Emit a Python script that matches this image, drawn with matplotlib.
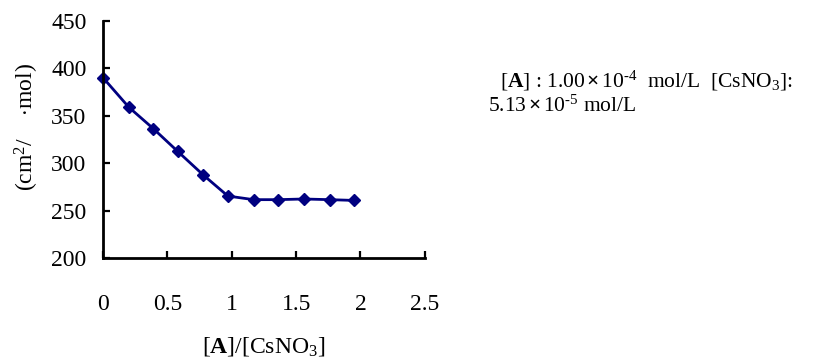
import matplotlib
matplotlib.use("Agg")
import matplotlib.pyplot as plt

plt.rcParams.update({"font.family": "Liberation Serif", "mathtext.fontset": "custom",
                     "mathtext.rm": "Liberation Serif", "mathtext.bf": "Liberation Serif:bold",
                     "mathtext.it": "Liberation Serif:italic"})
NAVY = "#000080"

# ratio [A]/[CsNO3] vs molar conductivity
ratio = [0.0, 0.2, 0.39, 0.58, 0.78, 0.97, 1.17, 1.36, 1.56, 1.76, 1.95]
conductivity = [390, 359, 336.5, 312.5, 287.5, 265.5, 261.7, 261.7, 262.4, 261.7, 260.9]
xticks = [0, 0.5, 1, 1.5, 2, 2.5]
yticks = [200, 250, 300, 350, 400, 450]

fig = plt.figure(figsize=(8.33, 3.58), dpi=100)
ax = fig.add_axes([0.1237, 0.2785, 0.3863, 0.6637])
ax.plot(ratio, conductivity, color=NAVY, lw=2.0, marker="D", ms=6.5, clip_on=False)
ax.set_xlim(0, 2.5); ax.set_ylim(200, 450)
ax.set_xticks(xticks); ax.set_yticks(yticks)
ax.set_xticklabels([f"{v:g}" for v in xticks])
for s in ["top", "right"]:
    ax.spines[s].set_visible(False)
for s in ["left", "bottom"]:
    ax.spines[s].set_linewidth(2.0)
ax.tick_params(axis="both", direction="in", length=5, width=1.6, labelsize=17)
ax.tick_params(axis="x", pad=26)
ax.tick_params(axis="y", pad=12)

fig.text(27 / 833, 1 - 127 / 358, r"(cm$^2$/    $\cdot$mol)", rotation=90,
         ha="center", va="center", fontsize=17)
fig.text(264 / 833, 1 - 346 / 358, r"[$\mathbf{A}$]/[CsNO$_3$]", ha="center", va="center", fontsize=17)
fig.text(500 / 833, 1 - 87 / 358,
         r"[$\mathbf{A}$] : 1.00$\,\mathbf{\times}\,$10$^{\text{-4}}$  mol/L  [CsNO$_3$]:",
         ha="left", va="baseline", fontsize=15.5)
fig.text(488 / 833, 1 - 112 / 358, r"5.13$\,\mathbf{\times}\,$10$^{\text{-5}}$ mol/L",
         ha="left", va="baseline", fontsize=15.5)

fig.savefig("out.png", dpi=100)
